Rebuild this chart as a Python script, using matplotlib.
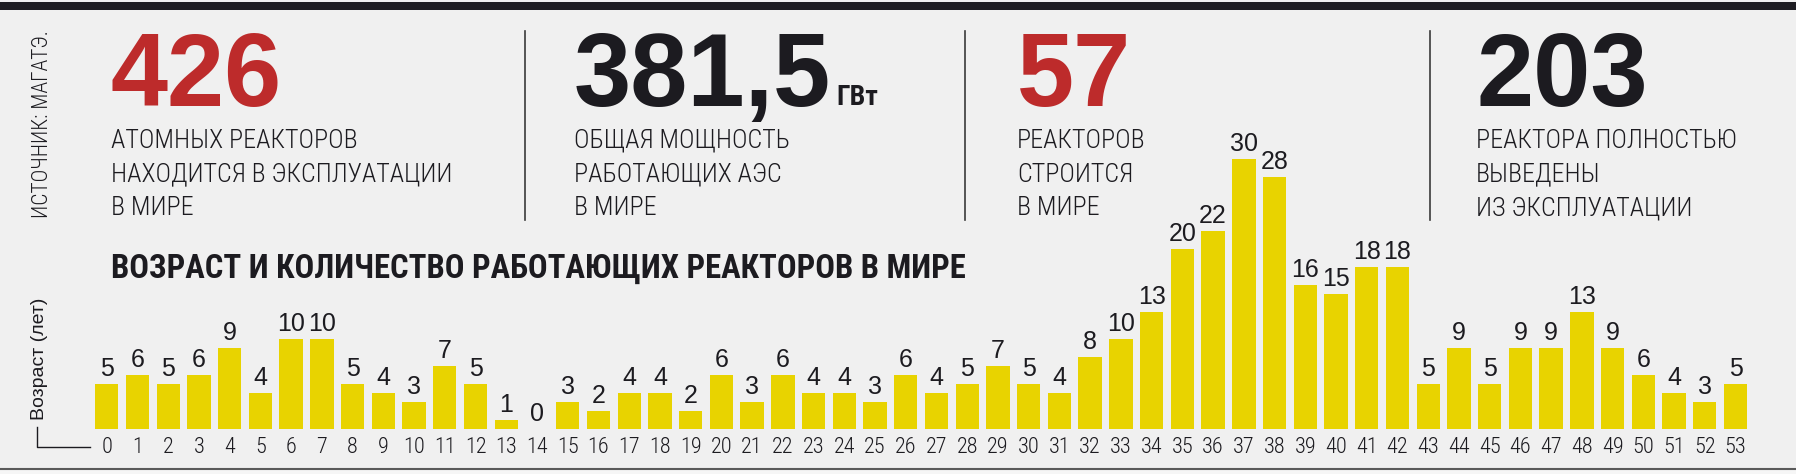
import matplotlib.pyplot as plt
from matplotlib.lines import Line2D
from matplotlib.patches import Rectangle

# age of operating reactors (years) and how many reactors have that age
ages = list(range(54))
reactors = [5, 6, 5, 6, 9, 4, 10, 10, 5, 4, 3, 7, 5, 1, 0, 3, 2, 4, 4, 2,
            6, 3, 6, 4, 4, 3, 6, 4, 5, 7, 5, 4, 8, 10, 13, 20, 22, 30, 28, 16,
            15, 18, 18, 5, 9, 5, 9, 9, 13, 9, 6, 4, 3, 5]

big_numbers = ['426', '381,5', '57', '203']
captions = [
    ['АТОМНЫХ РЕАКТОРОВ', 'НАХОДИТСЯ В ЭКСПЛУАТАЦИИ', 'В МИРЕ'],
    ['ОБЩАЯ МОЩНОСТЬ', 'РАБОТАЮЩИХ АЭС', 'В МИРЕ'],
    ['РЕАКТОРОВ', 'СТРОИТСЯ', 'В МИРЕ'],
    ['РЕАКТОРА ПОЛНОСТЬЮ', 'ВЫВЕДЕНЫ', 'ИЗ ЭКСПЛУАТАЦИИ'],
]
unit = 'ГВт'
title = 'ВОЗРАСТ И КОЛИЧЕСТВО РАБОТАЮЩИХ РЕАКТОРОВ В МИРЕ'
source = 'ИСТОЧНИК: МАГАТЭ.'
ylabel = 'Возраст (лет)'

RED = '#bd2b2b'
INK = '#1c1b20'
YELLOW = '#e8d300'
BG = '#f0f0f0'
big_colors = [RED, INK, RED, INK]

NARROW = ['Roboto Condensed', 'PT Sans Narrow', 'Liberation Sans Narrow',
          'Liberation Sans', 'DejaVu Sans']
SANS = ['Liberation Sans', 'DejaVu Sans']

W, H = 1796, 474


def fx(x):
    return x / W


def fy(y):
    return 1 - y / H


fig = plt.figure(figsize=(W / 100, H / 100), dpi=100, facecolor=BG)

# dark band on top, bottom rule
fig.add_artist(Rectangle((0, fy(9.5)), 1, 7.5 / H, transform=fig.transFigure,
                         color='#1e1d22', lw=0))
fig.add_artist(Rectangle((0, 0), 1, fy(469), transform=fig.transFigure,
                         color='#f6f6f6', lw=0))
fig.add_artist(Line2D([0, 1], [fy(469), fy(469)], color='#5a5a5a', lw=1.5))

# source, rotated
fig.text(fx(43), fy(124), source, rotation=90, ha='center', va='center',
         fontsize=15.5, fontweight='light', color=INK, family=NARROW)

# key figures
num_x = [111, 574, 1017, 1476]
for i, (num, col, lines) in enumerate(zip(big_numbers, big_colors, captions)):
    fig.text(fx(num_x[i]), fy(106), num, fontsize=74, fontweight='bold',
             color=col, family=SANS, ha='left', va='baseline')
    for k, line in enumerate(lines):
        fig.text(fx(num_x[i]), fy(148 + 33.5 * k), line, fontsize=18.8,
                 fontweight='light', color=INK, family=NARROW,
                 ha='left', va='baseline')
fig.text(fx(836), fy(105), unit, fontsize=20, fontweight='bold', color=INK,
         family=NARROW, ha='left', va='baseline')

for sx in [525, 965, 1430]:
    fig.add_artist(Line2D([fx(sx), fx(sx)], [fy(31), fy(220)],
                          color='#3a3a3a', lw=1.2))

# chart title
fig.text(fx(111), fy(278), title, fontsize=23.5, fontweight='bold', color=INK,
         family=NARROW, ha='left', va='baseline')

# y label with its little corner mark
fig.text(fx(40), fy(359), ylabel, rotation=90, ha='center', va='center',
         fontsize=14, color=INK, family=SANS)
fig.add_artist(Line2D([fx(37), fx(37), fx(90)], [fy(427), fy(447), fy(447)],
                      color=INK, lw=1))

# bars
ax = fig.add_axes([fx(91.4), fy(428.7), (1750.9 - 91.4) / W, 288 / H])
ax.set_facecolor('none')
ax.bar(ages, reactors, width=0.76, color=YELLOW)
for a, v in zip(ages, reactors):
    ax.annotate(str(v), (a, v), xytext=(0, 5.5), textcoords='offset points',
                ha='center', va='baseline', fontsize=18, color=INK,
                family=SANS)
ax.set_xlim(-0.5, 53.5)
ax.set_ylim(0, 32)
ax.set_xticks(ages)
ax.set_xticklabels([str(a) for a in ages], fontsize=16, color=INK,
                   family=NARROW, fontweight='light')
ax.tick_params(axis='x', length=0, pad=6)
ax.set_yticks([])
for s in ax.spines.values():
    s.set_visible(False)

fig.savefig('out.png', dpi=100, facecolor=BG)
